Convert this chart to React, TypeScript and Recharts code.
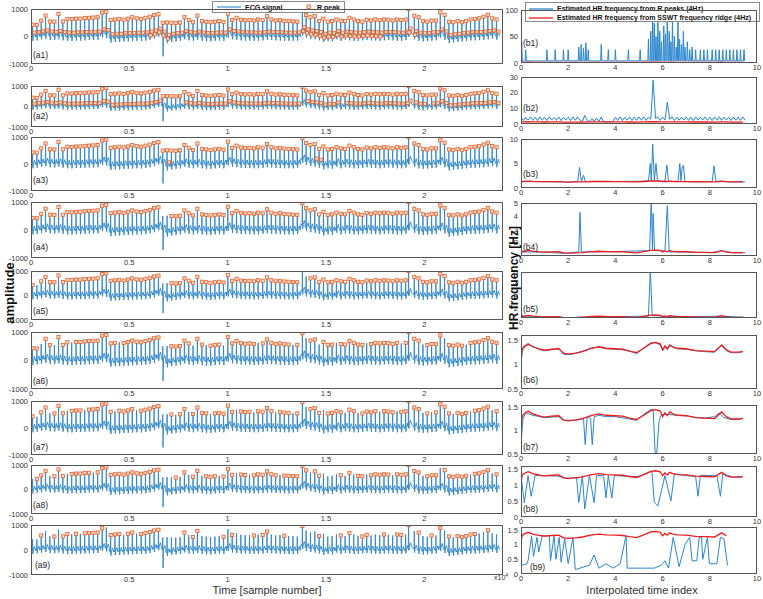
import React from "react";
import { ComposedChart, LineChart, Line, Scatter, XAxis, YAxis, Legend } from "recharts";

const FONT = '"Liberation Sans", Arial, Helvetica, sans-serif';
const ECG_BLUE = "#2f86c8";
const HR_BLUE = "#2a86d0";
const RIDGE_RED = "#f01c1c";
const PEAK_ORANGE = "#e0622a";
const AXIS_GREY = "#555";

// ---------- ECG beats (same recording in a1..a9) ----------
const beatTimes = [
  80, 300, 520, 740, 960, 1190, 1400, 1620, 1850, 2070,
  2290, 2510, 2730, 2950, 3170, 3390, 3620, 3830, 4050, 4270,
  4490, 4710, 4930, 5150, 5370, 5600, 5820, 6040, 6260, 6480,
  6700, 6920, 7140, 7360, 7580, 7800, 8020, 8240, 8460, 8690,
  8910, 9130, 9350, 9570, 9790, 10010, 10230, 10450, 10670, 10890,
  11110, 11330, 11550, 11780, 12000, 12220, 12440, 12660, 12880, 13100,
  13320, 13540, 13800, 13990, 14210, 14430, 14650, 14870, 15090, 15310,
  15530, 15750, 15970, 16190, 16410, 16630, 16850, 17070, 17290, 17510,
  17730, 17950, 18170, 18390, 18610, 18830, 19050, 19200, 19490, 19710,
  19930, 20150, 20370, 20590, 20810, 21030, 21250, 21470, 21690, 21910,
  22130, 22350, 22570, 22790, 23010, 23230, 23450, 23670,
];

const rPeaks = [
  430, 420, 580, 760, 545, 540, 820, 545, 640, 630,
  650, 650, 670, 680, 690, 700, 870, 900, 600, 620,
  640, 610, 650, 700, 660, 640, 680, 720, 780, 810,
  500, 510, 500, 490, 510, 700, 600, 520, 760, 560,
  540, 520, 540, 560, 530, 830, 600, 680, 610, 590,
  600, 580, 620, 600, 740, 620, 580, 600, 570, 560,
  550, 540, 960, 780, 700, 740, 560, 650, 540, 560,
  620, 580, 560, 680, 620, 560, 540, 610, 580, 620,
  600, 620, 610, 580, 620, 600, 620, 1000, 760, 700,
  560, 540, 580, 580, 880, 790, 540, 520, 560, 520,
  560, 620, 640, 660, 720, 790, 660, 620,
];

const baseLevel = [
  0, 20, 50, 80, 40, 30, 60, 20, 0, 0,
  10, 10, 20, 30, 30, 40, 120, 100, -60, -40,
  -40, -20, -20, -10, 0, 0, 10, 40, 80, 150,
  40, -80, -40, -20, 0, 60, 20, 0, 40, 0,
  -20, -20, 0, 10, 0, 120, 60, 40, 20, 10,
  10, 0, 0, 20, 40, 30, 20, 10, 0, 0,
  0, 10, 200, 120, 80, 60, 20, -40, 0, -20,
  60, 0, 40, 20, 0, 0, 20, 40, 20, 10,
  0, 20, 30, 20, 0, 0, 30, 150, 60, 0,
  -20, -10, 10, 20, 120, 40, -80, -60, -40, -20,
  0, 20, 20, 30, 40, 60, 80, 40,
];

// beat index -> S-wave value where the trace plunges
const deepDips: [number, number][] = [[30, -720]];

// R-peak detections per panel
const a1BaseHits = [27, 28, 29, 30, 31, 62, 63, 64, 65, 66, 67, 68, 69, 70, 71, 72, 73, 74, 75, 76, 77, 78, 79, 80, 87, 88];
const a2TWaveRuns: [number, number][] = [[0, 29], [35, 61], [63, 70], [72, 90], [92, 107]];
const a3Extra = [31, 65, 66];
const a4Missed = [30, 31];
const a5Missed = [1, 30, 31, 62, 63];
const a6Missed = [2, 5, 9, 20, 30, 31, 37, 40, 44, 52, 60, 63, 66, 70, 77, 85, 90, 95, 100];
const a7Missed = [1, 4, 8, 12, 19, 24, 30, 31, 33, 36, 41, 47, 51, 56, 60, 63, 67, 72, 75, 80, 84, 90, 92, 97, 101, 106];
const a8Missed = [0, 4, 8, 14, 30, 31, 32, 34, 36, 39, 43, 47, 50, 57, 64, 67, 68, 69, 70, 72, 74, 77, 83, 90, 94, 101, 106];
const a9Found = [2, 5, 7, 8, 10, 12, 13, 14, 15, 16, 18, 19, 20, 22, 23, 25, 26, 27, 28, 29, 35, 37, 38, 44, 46, 51, 53, 54, 58, 62, 66, 71, 73, 76, 77, 81, 84, 85, 87, 89, 92, 94, 96, 98, 99, 100, 101, 102, 105];

const ecgXTicks = [0, 5000, 10000, 15000, 20000];
const ecgYTicks = [-1000, 0, 1000];

// ---------- HR estimates (interpolated time index) ----------
const ssRidge: [number, number][] = [
  [0, 1.1], [0.05, 1.3], [0.1, 1.35], [0.3, 1.42], [0.5, 1.36], [0.8, 1.31], [1.0, 1.29], [1.3, 1.31],
  [1.6, 1.32], [1.8, 1.23], [2.0, 1.21], [2.3, 1.23], [2.6, 1.26], [3.0, 1.33], [3.3, 1.36], [3.6, 1.33],
  [4.0, 1.32], [4.3, 1.31], [4.6, 1.27], [4.9, 1.24], [5.2, 1.33], [5.5, 1.43], [5.7, 1.45], [5.9, 1.42],
  [6.0, 1.3], [6.1, 1.38], [6.2, 1.32], [6.3, 1.4], [6.4, 1.37], [6.6, 1.33], [7.0, 1.32], [7.4, 1.28],
  [7.8, 1.27], [8.2, 1.26], [8.5, 1.4], [8.7, 1.3], [8.9, 1.25], [9.2, 1.25], [9.4, 1.26],
];

const b1Floor = 4;
const b1Spikes: [number, number][] = [
  [0.03, 40], [0.2, 25], [1.1, 25], [1.45, 25], [1.8, 25], [2.0, 25], [2.45, 30], [2.55, 35], [2.65, 28],
  [2.75, 38], [2.85, 25], [3.4, 35], [3.7, 25], [4.0, 25], [4.55, 25], [5.05, 25], [5.4, 45], [5.5, 60],
  [5.58, 100], [5.65, 75], [5.72, 50], [5.8, 85], [5.88, 60], [5.95, 40], [6.05, 70], [6.12, 55], [6.2, 100],
  [6.28, 60], [6.35, 40], [6.42, 90], [6.5, 50], [6.58, 30], [6.65, 80], [6.72, 45], [6.8, 35], [6.88, 60],
  [6.95, 30], [7.05, 40], [7.15, 25], [7.25, 30], [7.4, 25], [7.6, 25], [7.75, 25], [7.9, 25], [8.1, 25],
  [8.25, 25], [8.4, 25], [8.55, 25], [8.7, 25], [8.85, 25], [9.0, 25], [9.15, 25], [9.3, 25], [9.45, 25],
];

const b2Step = 0.1;
const b2Values = [
  4.5, 2.2, 4.2, 2.5, 4.6, 2.3, 4.4, 2.1, 4.5, 2.4,
  4.3, 2.2, 4.6, 2.5, 4.2, 2.3, 4.5, 2.2, 4.4, 2.5,
  4.3, 2.1, 4.6, 2.4, 4.5, 2.3, 1.5, 5.5, 2.4, 1.5,
  3.5, 1.5, 3.8, 1.5, 4.5, 1.4, 1.4, 1.4, 1.4, 1.5,
  4.4, 2.3, 4.5, 2.2, 4.3, 2.5, 4.6, 2.2, 4.4, 2.3,
  4.5, 2.4, 4.6, 2.3, 4.4, 3.0, 28, 3.5, 4.5, 2.3,
  4.4, 2.5, 14, 3.0, 4.6, 2.2, 4.5, 2.4, 4.3, 2.5,
  4.5, 2.3, 4.4, 2.2, 4.6, 2.4, 4.3, 2.5, 4.5, 2.3,
  4.4, 2.2, 4.5, 2.4, 4.6, 2.3, 4.4, 2.5, 4.3, 2.2,
  4.5, 2.4, 4.4, 2.3, 4.5, 2.4,
];

const b3Blue: [number, number][] = [
  [0, 1.2], [0.1, 1.3], [1.0, 1.3], [2.0, 1.2], [2.4, 1.3], [2.48, 4.2], [2.56, 1.3], [2.65, 2.6], [2.72, 1.4],
  [2.8, 1.3], [3.5, 1.3], [5.4, 1.4], [5.48, 5.0], [5.52, 1.5], [5.58, 9.0], [5.65, 1.5], [5.72, 5.0], [5.78, 1.5],
  [5.85, 1.4], [6.1, 1.4], [6.18, 4.7], [6.25, 1.3], [6.65, 1.3], [6.73, 5.0], [6.78, 1.5], [6.83, 4.3],
  [6.88, 4.6], [6.95, 1.3], [8.1, 1.3], [8.18, 4.5], [8.26, 1.3], [9.5, 1.25],
];
const b4Blue: [number, number][] = [
  [0, 1.5], [0.1, 1.3], [1.0, 1.3], [1.8, 1.2], [2.45, 1.3], [2.5, 4.3], [2.56, 1.3], [3.5, 1.32], [5.45, 1.4],
  [5.52, 5.2], [5.57, 1.5], [5.6, 4.2], [5.66, 1.4], [6.1, 1.4], [6.2, 4.8], [6.28, 1.3], [7.0, 1.3], [8.0, 1.25],
  [8.5, 1.38], [9.0, 1.25], [9.5, 1.25],
];
const b5Blue: [number, number][] = [
  [0, 1.6], [0.1, 1.3], [1.0, 1.3], [1.8, 1.2], [3.0, 1.3], [5.4, 1.35], [5.48, 5.2], [5.56, 1.4], [6.5, 1.3],
  [8.5, 1.35], [9.5, 1.25],
];
const b6Blue: [number, number][] = [
  [0, 1.0], [0.05, 1.25], [0.1, 1.33], [0.3, 1.4], [0.5, 1.37], [0.8, 1.3], [1.0, 1.28], [1.3, 1.3], [1.6, 1.33],
  [1.8, 1.21], [2.0, 1.2], [2.3, 1.22], [2.6, 1.27], [3.0, 1.34], [3.3, 1.35], [3.6, 1.32], [4.0, 1.31], [4.3, 1.3],
  [4.6, 1.27], [4.9, 1.22], [5.2, 1.34], [5.5, 1.44], [5.7, 1.44], [5.9, 1.4], [6.0, 1.28], [6.1, 1.35], [6.2, 1.3],
  [6.3, 1.38], [6.4, 1.36], [6.6, 1.32], [7.0, 1.31], [7.4, 1.28], [7.8, 1.26], [8.2, 1.25], [8.5, 1.38], [8.7, 1.28],
  [8.9, 1.24], [9.2, 1.24], [9.4, 1.26],
];
const b7Blue: [number, number][] = [
  [0, 0.7], [0.08, 1.25], [0.2, 1.38], [0.5, 1.33], [1.0, 1.28], [1.6, 1.3], [1.8, 1.22], [2.3, 1.22], [2.6, 1.25],
  [2.65, 1.25], [2.72, 0.7], [2.8, 1.27], [2.9, 1.28], [2.95, 1.25], [3.02, 0.7], [3.1, 1.3], [3.3, 1.33], [3.6, 1.3],
  [4.0, 1.3], [4.6, 1.25], [4.9, 1.22], [5.2, 1.35], [5.5, 1.45], [5.6, 1.45], [5.68, 0.55], [5.75, 0.5], [5.85, 1.2],
  [5.95, 1.35], [6.2, 1.35], [6.6, 1.33], [7.0, 1.32], [7.4, 1.28], [7.8, 1.27], [8.2, 1.3], [8.4, 1.38], [8.6, 1.28],
  [8.9, 1.24], [9.2, 1.24], [9.4, 1.27],
];
const b8Blue: [number, number][] = [
  [0, 1.3], [0.05, 1.0], [0.14, 0.45], [0.3, 1.3], [0.43, 0.65], [0.6, 1.3], [1.0, 1.3], [1.6, 1.28], [2.0, 1.2],
  [2.35, 1.25], [2.45, 0.45], [2.6, 1.3], [2.7, 0.25], [2.9, 1.3], [3.1, 0.45], [3.2, 1.3], [3.5, 1.3], [3.6, 0.6],
  [3.7, 1.3], [3.85, 0.6], [3.95, 1.3], [4.4, 1.28], [5.0, 1.27], [5.4, 1.4], [5.55, 1.42], [5.65, 0.45], [5.8, 0.35],
  [6.1, 1.3], [6.35, 0.5], [6.5, 1.35], [7.0, 1.3], [7.4, 1.27], [7.5, 0.65], [7.6, 1.3], [8.3, 1.3], [8.45, 0.65],
  [8.55, 1.35], [9.0, 1.25], [9.4, 1.27],
];
const b9Blue: [number, number][] = [
  [0, 0.3], [0.25, 0.35], [0.3, 0.45], [0.45, 1.3], [0.53, 0.6], [0.68, 1.25], [0.75, 0.75], [0.9, 1.3], [1.2, 1.3],
  [1.25, 0.45], [1.4, 1.3], [1.48, 0.5], [1.62, 1.25], [1.7, 0.4], [1.85, 1.2], [2.0, 0.35], [2.2, 1.25], [2.3, 0.15],
  [2.9, 0.3], [3.1, 0.65], [3.3, 0.2], [3.6, 0.35], [3.9, 0.2], [4.2, 0.35], [4.45, 1.3], [4.5, 0.2], [5.65, 0.2],
  [5.95, 0.3], [6.1, 0.45], [6.25, 0.2], [6.45, 1.25], [6.7, 0.25], [6.95, 1.0], [7.15, 1.25], [7.25, 0.45],
  [7.45, 0.45], [7.55, 1.25], [7.65, 1.25], [7.7, 0.5], [7.9, 1.25], [7.98, 0.35], [8.3, 0.35], [8.45, 1.25],
  [8.6, 1.2], [8.75, 0.3],
];
const b9End = 8.8;
const hrXTicks = [0, 2, 4, 6, 8, 10];

// ---------- building chart rows ----------
const allBeats = beatTimes.map((_, i) => i);
const without = (skip: number[]) => allBeats.filter((i) => !skip.includes(i));
const fromRuns = (r: [number, number][]) => allBeats.filter((i) => r.some(([a, b]) => i >= a && i <= b));

const ecgTrace = beatTimes.flatMap((t, i) => {
  const b = baseLevel[i];
  const dip = deepDips.find((d) => d[0] === i);
  return [
    { x: t - 70, y: b + 20 },
    { x: t - 15, y: b - 40 },
    { x: t, y: rPeaks[i] },
    { x: t + 14, y: dip ? dip[1] : b - 160 },
    { x: t + 40, y: b },
    { x: t + 100, y: b + 140 },
    { x: t + 150, y: b - 20 },
  ];
});

const peakPt = (i: number) => ({ x: beatTimes[i], y: rPeaks[i] });
const tWavePt = (i: number) => ({ x: beatTimes[i] + 100, y: baseLevel[i] + 140 });
const basePt = (i: number) => ({ x: beatTimes[i] + 40, y: baseLevel[i] });

const toRows = (p: [number, number][]) => p.map(([x, y]) => ({ x, y }));
const b1Blue = [
  { x: 0, y: b1Floor },
  ...b1Spikes.flatMap(([x, y]) => [
    { x: x - 0.025, y: b1Floor },
    { x, y },
    { x: x + 0.025, y: b1Floor },
  ]),
  { x: 9.5, y: b1Floor },
];
const b2Blue = b2Values.map((y, i) => ({ x: +(i * b2Step).toFixed(2), y }));
const ridgeRows = toRows(ssRidge);

const ecgPanels = [
  { tag: "(a1)", top: 9, h: 55, tagTop: 51, marks: [...allBeats.map(peakPt), ...allBeats.map(tWavePt), ...a1BaseHits.map(basePt)] },
  { tag: "(a2)", top: 86, h: 41, tagTop: 112, marks: [...allBeats.map(peakPt), ...fromRuns(a2TWaveRuns).map(tWavePt)] },
  { tag: "(a3)", top: 137, h: 54, tagTop: 176, marks: [...allBeats.map(peakPt), ...a3Extra.map(tWavePt)] },
  { tag: "(a4)", top: 202, h: 56, tagTop: 243, marks: without(a4Missed).map(peakPt) },
  { tag: "(a5)", top: 271, h: 49, tagTop: 307, marks: without(a5Missed).map(peakPt) },
  { tag: "(a6)", top: 332, h: 57, tagTop: 377, marks: without(a6Missed).map(peakPt) },
  { tag: "(a7)", top: 401, h: 54, tagTop: 443, marks: without(a7Missed).map(peakPt) },
  { tag: "(a8)", top: 465, h: 49, tagTop: 501, marks: without(a8Missed).map(peakPt) },
  { tag: "(a9)", top: 525, h: 50, tagTop: 561, marks: a9Found.map(peakPt) },
];

const hrPanels = [
  { tag: "(b1)", top: 10, h: 53, tagTop: 39, domain: [0, 100], ticks: [0, 50, 100], blue: b1Blue, red: ridgeRows },
  { tag: "(b2)", top: 77, h: 47, tagTop: 104, domain: [0, 30], ticks: [0, 10, 20, 30], blue: b2Blue, red: ridgeRows },
  { tag: "(b3)", top: 139, h: 49, tagTop: 170, domain: [0, 10], ticks: [0, 5, 10], blue: toRows(b3Blue), red: ridgeRows },
  { tag: "(b4)", top: 203, h: 53, tagTop: 243, domain: [1, 5], ticks: [2, 3, 4, 5], blue: toRows(b4Blue), red: ridgeRows },
  { tag: "(b5)", top: 272, h: 46, tagTop: 305, domain: [1.2, 5], ticks: [2, 3, 4, 5], blue: toRows(b5Blue), red: ridgeRows },
  { tag: "(b6)", top: 335, h: 54, tagTop: 376, domain: [0.5, 1.6], ticks: [0.5, 1, 1.5], blue: toRows(b6Blue), red: ridgeRows },
  { tag: "(b7)", top: 405, h: 49, tagTop: 443, domain: [0.5, 1.55], ticks: [0.5, 1, 1.5], blue: toRows(b7Blue), red: ridgeRows },
  { tag: "(b8)", top: 466, h: 51, tagTop: 505, domain: [0, 1.6], ticks: [0, 0.5, 1, 1.5], blue: toRows(b8Blue), red: ridgeRows },
  { tag: "(b9)", top: 527, h: 47, tagTop: 563, domain: [0, 1.6], ticks: [0, 0.5, 1, 1.5], blue: toRows(b9Blue), red: ridgeRows.filter((r) => r.x <= b9End) },
];

// ---------- layout ----------
const ECG_LEFT = 31;
const ECG_W = 472;
const ECG_YW = 30;
const HR_LEFT = 521;
const HR_W = 236;
const HR_YW = 20;
const HR_RIGHT_PAD = 5; // room for the "10" tick label
const X_H = 12;
const PAD_TOP = 6; // room for the top y tick label

const tickStyle = { fontSize: 7.5, fill: "#333", fontFamily: FONT };

const PeakSquare = (p: any) =>
  p.cx == null ? null : (
    <rect x={p.cx - 1.6} y={p.cy - 1.6} width={3.2} height={3.2} fill="#fbd9c8" stroke={PEAK_ORANGE} strokeWidth={0.8} />
  );

function LegendBox(props: any) {
  const items = props.payload || [];
  return (
    <div
      style={{
        border: "1px solid #8a8a8a",
        background: "#fff",
        fontFamily: FONT,
        fontWeight: 700,
        fontSize: 7,
        color: "#111",
        padding: props.vertical ? "1px 3px" : "0 4px",
        display: "flex",
        flexDirection: props.vertical ? "column" : "row",
        justifyContent: "space-between",
        boxSizing: "border-box",
        height: "100%",
      }}
    >
      {items.map((it: any) => (
        <div key={it.value} style={{ display: "flex", alignItems: "center", gap: 4, lineHeight: "9px" }}>
          <svg width={it.type === "square" ? 8 : 24} height={8}>
            {it.type === "square" ? (
              <rect x={2} y={2} width={3.5} height={3.5} fill="#fbd9c8" stroke={PEAK_ORANGE} strokeWidth={0.8} />
            ) : (
              <line
                x1={0}
                y1={4}
                x2={24}
                y2={4}
                stroke={it.color}
                strokeWidth={it.color === ECG_BLUE ? 2.2 : 1.3}
                strokeOpacity={it.color === ECG_BLUE ? 0.55 : 1}
              />
            )}
          </svg>
          <span>{it.value}</span>
        </div>
      ))}
    </div>
  );
}

function Frame({ left, top, width, height }: { left: number; top: number; width: number; height: number }) {
  return (
    <div
      style={{
        position: "absolute",
        left,
        top,
        width,
        height,
        border: `1px solid ${AXIS_GREY}`,
        boxSizing: "border-box",
        pointerEvents: "none",
      }}
    />
  );
}

function Tag({ text, left, top }: { text: string; left: number; top: number }) {
  return (
    <div style={{ position: "absolute", left, top, fontSize: 8.5, fontFamily: FONT, color: "#222", lineHeight: "9px" }}>
      {text}
    </div>
  );
}

function EcgPanel({ cfg, idx }: { cfg: (typeof ecgPanels)[number]; idx: number }) {
  const last = idx === ecgPanels.length - 1;
  return (
    <>
      <div style={{ position: "absolute", left: ECG_LEFT - ECG_YW, top: cfg.top - PAD_TOP }}>
        <ComposedChart
          width={ECG_YW + ECG_W + 1}
          height={PAD_TOP + cfg.h + X_H}
          margin={{ top: PAD_TOP, right: 1, left: 0, bottom: 0 }}
        >
          <XAxis
            type="number"
            dataKey="x"
            domain={[0, 24000]}
            ticks={last ? ecgXTicks.slice(1) : ecgXTicks}
            tickFormatter={(v: number) => String(v / 10000)}
            allowDataOverflow
            height={X_H}
            tick={tickStyle}
            tickLine={false}
            tickSize={1}
            tickMargin={1}
            axisLine={false}
            interval={0}
          />
          <YAxis
            type="number"
            dataKey="y"
            domain={[-1000, 1000]}
            ticks={ecgYTicks}
            allowDataOverflow
            width={ECG_YW}
            tick={tickStyle}
            tickLine={false}
            tickSize={2}
            tickMargin={1}
            axisLine={false}
            interval={0}
          />
          <Line
            name="ECG signal"
            data={ecgTrace}
            dataKey="y"
            type="linear"
            stroke={ECG_BLUE}
            strokeWidth={0.9}
            dot={false}
            isAnimationActive={false}
          />
          <Scatter
            name="R peak"
            data={cfg.marks}
            dataKey="y"
            legendType="square"
            fill={PEAK_ORANGE}
            shape={PeakSquare}
            isAnimationActive={false}
          />
          {idx === 0 && (
            <Legend
              layout="horizontal"
              align="center"
              verticalAlign="middle"
              content={(p: any) => <LegendBox {...p} />}
              wrapperStyle={{ left: 212 - (ECG_LEFT - ECG_YW), top: 1 - (cfg.top - PAD_TOP), width: 133, height: 12 }}
            />
          )}
        </ComposedChart>
      </div>
      <Frame left={ECG_LEFT} top={cfg.top} width={ECG_W} height={cfg.h} />
      <Tag text={cfg.tag} left={last ? 35 : 33} top={cfg.tagTop} />
    </>
  );
}

function HrPanel({ cfg, idx }: { cfg: (typeof hrPanels)[number]; idx: number }) {
  return (
    <>
      <div style={{ position: "absolute", left: HR_LEFT - HR_YW, top: cfg.top - PAD_TOP }}>
        <LineChart
          width={HR_YW + HR_W + HR_RIGHT_PAD}
          height={PAD_TOP + cfg.h + X_H}
          margin={{ top: PAD_TOP, right: HR_RIGHT_PAD, left: 0, bottom: 0 }}
        >
          <XAxis
            type="number"
            dataKey="x"
            domain={[0, 10]}
            ticks={hrXTicks}
            allowDataOverflow
            height={X_H}
            tick={tickStyle}
            tickLine={false}
            tickSize={1}
            tickMargin={1}
            axisLine={false}
            interval={0}
          />
          <YAxis
            type="number"
            dataKey="y"
            domain={cfg.domain}
            ticks={cfg.ticks}
            allowDataOverflow
            width={HR_YW}
            tick={tickStyle}
            tickLine={false}
            tickSize={2}
            tickMargin={1}
            axisLine={false}
            interval={0}
          />
          <Line
            name="Estimated HR frequency from R peaks (4Hz)"
            data={cfg.blue}
            dataKey="y"
            type="linear"
            stroke={HR_BLUE}
            strokeWidth={1}
            dot={false}
            isAnimationActive={false}
          />
          <Line
            name="Estimated HR frequency from SSWT frequency ridge (4Hz)"
            data={cfg.red}
            dataKey="y"
            type="linear"
            stroke={RIDGE_RED}
            strokeWidth={1.3}
            dot={false}
            isAnimationActive={false}
          />
          {idx === 0 && (
            <Legend
              layout="vertical"
              align="center"
              verticalAlign="middle"
              content={(p: any) => <LegendBox {...p} vertical />}
              wrapperStyle={{ left: 525 - (HR_LEFT - HR_YW), top: 2 - (cfg.top - PAD_TOP), width: 235, height: 20 }}
            />
          )}
        </LineChart>
      </div>
      <Frame left={HR_LEFT} top={cfg.top} width={HR_W} height={cfg.h} />
      <Tag text={cfg.tag} left={idx === hrPanels.length - 1 ? 530 : 523} top={cfg.tagTop} />
    </>
  );
}

export default function App() {
  return (
    <div
      style={{
        position: "absolute",
        left: 0,
        top: 0,
        width: 763,
        height: 599,
        overflow: "hidden",
        background: "#fff",
        fontFamily: FONT,
      }}
    >
      {ecgPanels.map((cfg, i) => (
        <EcgPanel key={cfg.tag} cfg={cfg} idx={i} />
      ))}
      {hrPanels.map((cfg, i) => (
        <HrPanel key={cfg.tag} cfg={cfg} idx={i} />
      ))}
      <div style={{ position: "absolute", left: 494, top: 572, fontSize: 7, color: "#333" }}>
        x10<sup style={{ fontSize: 5 }}>4</sup>
      </div>
      <div
        style={{
          position: "absolute",
          left: 9,
          top: 293,
          transform: "translate(-50%, -50%) rotate(-90deg)",
          fontSize: 13,
          fontWeight: 700,
          whiteSpace: "nowrap",
          color: "#111",
        }}
      >
        amplitude
      </div>
      <div
        style={{
          position: "absolute",
          left: 514,
          top: 278,
          transform: "translate(-50%, -50%) rotate(-90deg)",
          fontSize: 12,
          fontWeight: 700,
          whiteSpace: "nowrap",
          color: "#111",
        }}
      >
        HR frequency [Hz]
      </div>
      <div
        style={{
          position: "absolute",
          left: 267,
          top: 590,
          transform: "translate(-50%, -50%)",
          fontSize: 11,
          color: "#333",
          whiteSpace: "nowrap",
        }}
      >
        Time [sample number]
      </div>
      <div
        style={{
          position: "absolute",
          left: 642,
          top: 590,
          transform: "translate(-50%, -50%)",
          fontSize: 11,
          color: "#333",
          whiteSpace: "nowrap",
        }}
      >
        Interpolated time index
      </div>
    </div>
  );
}
